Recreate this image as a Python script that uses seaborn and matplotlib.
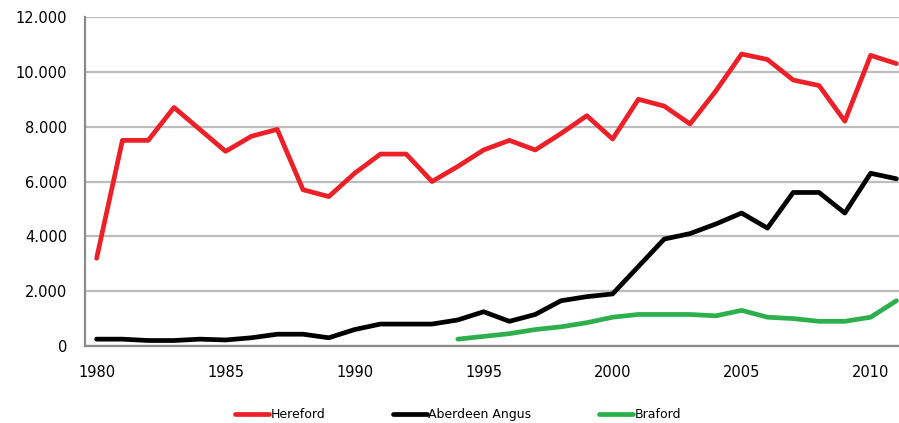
import matplotlib
matplotlib.use("Agg")
import matplotlib.pyplot as plt
import matplotlib.ticker as mticker
import seaborn as sns
import pandas as pd

years = list(range(1980, 2012))
hereford = [3200, 7500, 7500, 8700, 7900, 7100, 7650, 7900, 5700, 5450,
            6300, 7000, 7000, 6000, 6550, 7150, 7500, 7150, 7750, 8400,
            7550, 9000, 8750, 8100, 9300, 10650, 10450, 9700, 9500, 8200,
            10600, 10300]
angus = [250, 250, 200, 200, 250, 220, 300, 430, 430, 300,
         600, 800, 800, 800, 950, 1250, 900, 1150, 1650, 1800,
         1900, 2900, 3900, 4100, 4450, 4850, 4300, 5600, 5600, 4850,
         6300, 6100]
braford_years = list(range(1994, 2012))
braford = [250, 350, 450, 600, 700, 850, 1050, 1150, 1150, 1150,
           1100, 1300, 1050, 1000, 900, 900, 1050, 1650]

series_names = ["Hereford", "Aberdeen Angus", "Braford"]
colors = ["#EC2026", "#000000", "#2DB04B"]
y_ticks = [0, 2000, 4000, 6000, 8000, 10000, 12000]
x_ticks = [1980, 1985, 1990, 1995, 2000, 2005, 2010]

df = pd.concat([
    pd.DataFrame({"year": years, "value": hereford, "breed": series_names[0]}),
    pd.DataFrame({"year": years, "value": angus, "breed": series_names[1]}),
    pd.DataFrame({"year": braford_years, "value": braford, "breed": series_names[2]}),
])

sns.set_style("white")
plt.rcParams["font.family"] = ["DejaVu Sans"]

fig = plt.figure(figsize=(8.99, 4.23), dpi=100)
ax = fig.add_axes([85 / 899, 1 - 346 / 423, 1 - 85 / 899, (346 - 17) / 423])

sns.lineplot(data=df, x="year", y="value", hue="breed", hue_order=series_names,
             palette=colors, linewidth=3.4, ax=ax, legend=False,
             estimator=None, sort=True)

ax.set_xlim(1979.55, 2011.1)
ax.set_ylim(0, 12000)
ax.set_yticks(y_ticks)
ax.set_xticks(x_ticks)
ax.yaxis.set_major_formatter(mticker.FuncFormatter(
    lambda v, p: f"{int(v):,}".replace(",", ".")))
ax.tick_params(axis="both", length=0, labelsize=10.5, colors="#000000")
ax.tick_params(axis="x", pad=14)
ax.tick_params(axis="y", pad=13)
ax.set_xlabel("")
ax.set_ylabel("")
ax.grid(axis="y", color="#BDBDBD", linewidth=1.6)
ax.grid(axis="x", visible=False)
ax.set_axisbelow(True)
for s in ["top", "right"]:
    ax.spines[s].set_visible(False)
for s in ["left", "bottom"]:
    ax.spines[s].set_color("#8A8A8A")
    ax.spines[s].set_linewidth(1.6)

handles = [plt.Line2D([], [], color=c, linewidth=3.4) for c in colors]
leg = fig.legend(handles, series_names, loc="center", bbox_to_anchor=(458 / 899, 0.02),
                 ncol=3, frameon=False, fontsize=9, handlelength=2.7,
                 handletextpad=0.15, columnspacing=5.4)
for t in leg.get_texts():
    t.set_color("#000000")

fig.savefig("out.png", dpi=100)
